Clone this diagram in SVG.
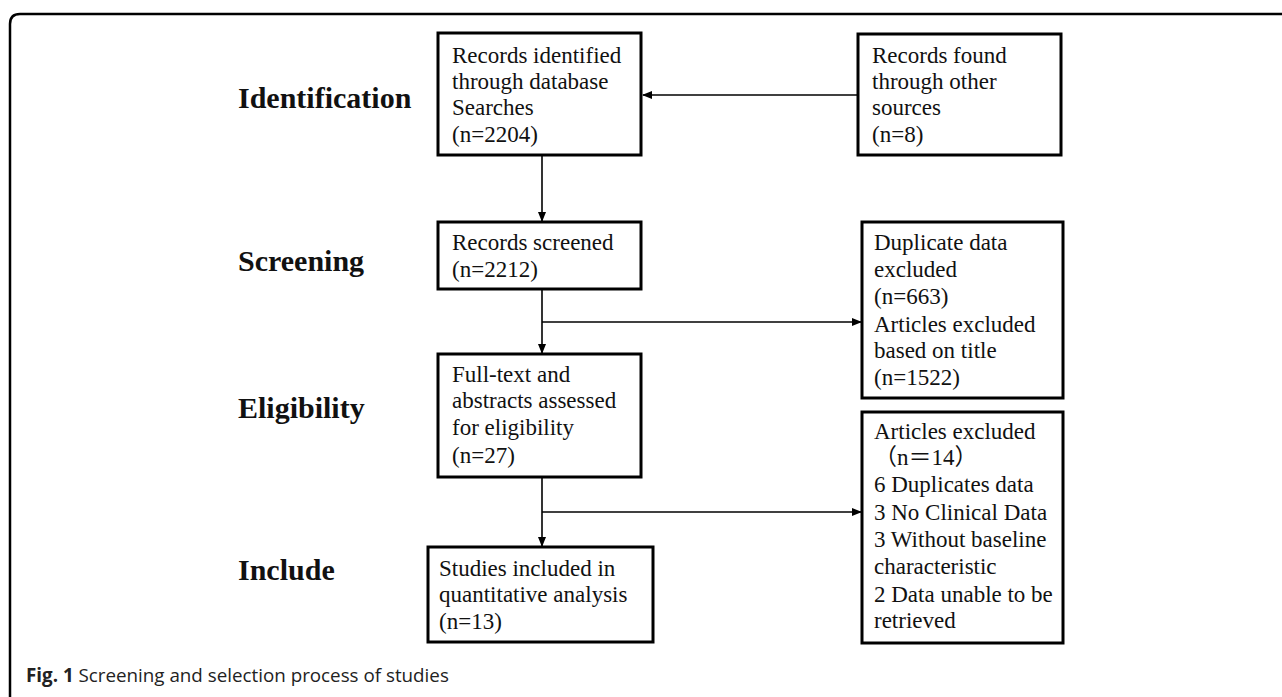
<svg xmlns="http://www.w3.org/2000/svg" width="1282" height="697" viewBox="0 0 1282 697">
<defs>
<style>
.box{fill:#fff;stroke:#000;stroke-width:3}
.t{font-family:"Liberation Serif","Noto Sans CJK SC",serif;font-size:23px;fill:#111}
.lab{font-family:"Liberation Serif",serif;font-size:30px;font-weight:bold;fill:#111}
.con{fill:none;stroke:#000;stroke-width:1.6}
.cap{font-family:"Open Sans",sans-serif;font-size:18.8px;fill:#222}
</style>
<marker id="ah" markerWidth="10" markerHeight="8" refX="9" refY="4" orient="auto" markerUnits="userSpaceOnUse">
<path d="M0,0 L10,4 L0,8 Z" fill="#000"/>
</marker>
</defs>
<rect width="1282" height="697" fill="#fff"/>
<path d="M10,697 V24 Q10,14 20,14 H1282" fill="none" stroke="#000" stroke-width="2.5"/>
<g id="labels">
<text class="lab" x="238" y="108">Identification</text>
<text class="lab" x="238" y="271">Screening</text>
<text class="lab" x="238" y="418">Eligibility</text>
<text class="lab" x="238" y="580">Include</text>
</g>
<g id="connectors">
<line class="con" x1="858" y1="95" x2="643" y2="95" marker-end="url(#ah)"/>
<line class="con" x1="542" y1="155" x2="542" y2="221" marker-end="url(#ah)"/>
<line class="con" x1="542" y1="289" x2="542" y2="353" marker-end="url(#ah)"/>
<line class="con" x1="542" y1="322" x2="861" y2="322" marker-end="url(#ah)"/>
<line class="con" x1="542" y1="477" x2="542" y2="546" marker-end="url(#ah)"/>
<line class="con" x1="542" y1="512" x2="861" y2="512" marker-end="url(#ah)"/>
</g>
<g id="n1">
<rect class="box" x="438" y="33" width="203" height="122"/>
<text class="t" x="452" y="63">Records identified</text>
<text class="t" x="452" y="89">through database</text>
<text class="t" x="452" y="115">Searches</text>
<text class="t" x="452" y="142">(n=2204)</text>
</g>
<g id="n2">
<rect class="box" x="858" y="34" width="203" height="121"/>
<text class="t" x="872" y="63">Records found</text>
<text class="t" x="872" y="89">through other</text>
<text class="t" x="872" y="115">sources</text>
<text class="t" x="872" y="142">(n=8)</text>
</g>
<g id="n3">
<rect class="box" x="438" y="222" width="203" height="67"/>
<text class="t" x="452" y="250">Records screened</text>
<text class="t" x="452" y="277">(n=2212)</text>
</g>
<g id="n4">
<rect class="box" x="862" y="222" width="201" height="176"/>
<text class="t" x="874" y="250">Duplicate data</text>
<text class="t" x="874" y="277">excluded</text>
<text class="t" x="874" y="304">(n=663)</text>
<text class="t" x="874" y="332">Articles excluded</text>
<text class="t" x="874" y="358">based on title</text>
<text class="t" x="874" y="385">(n=1522)</text>
</g>
<g id="n5">
<rect class="box" x="438" y="354" width="203" height="123"/>
<text class="t" x="452" y="382">Full-text and</text>
<text class="t" x="452" y="408">abstracts assessed</text>
<text class="t" x="452" y="435">for eligibility</text>
<text class="t" x="452" y="463">(n=27)</text>
</g>
<g id="n6">
<rect class="box" x="862" y="412" width="201" height="231"/>
<text class="t" x="874" y="439">Articles excluded</text>
<text class="t" x="874" y="465">（n＝14）</text>
<text class="t" x="874" y="492">6 Duplicates data</text>
<text class="t" x="874" y="520">3 No Clinical Data</text>
<text class="t" x="874" y="547">3 Without baseline</text>
<text class="t" x="874" y="574">characteristic</text>
<text class="t" x="874" y="602">2 Data unable to be</text>
<text class="t" x="874" y="628">retrieved</text>
</g>
<g id="n7">
<rect class="box" x="428" y="547" width="225" height="95"/>
<text class="t" x="439" y="576">Studies included in</text>
<text class="t" x="439" y="602">quantitative analysis</text>
<text class="t" x="439" y="629">(n=13)</text>
</g>
<text class="cap" x="26" y="682"><tspan font-weight="bold">Fig. 1</tspan> Screening and selection process of studies</text>
</svg>
